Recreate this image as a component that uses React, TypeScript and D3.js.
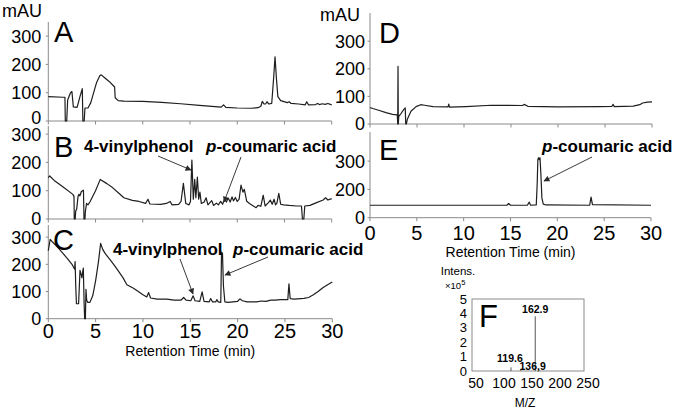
import React from "react";
import * as d3 from "d3";

const FONT = "'Liberation Sans', Arial, Helvetica, sans-serif";
const AXIS = "#8a8a8a";
const INK = "#1e1e1e";

// ---------- data ----------
const timeTicks = [0, 5, 10, 15, 20, 25, 30];
const timeTickLabels = ["0", "5", "10", "15", "20", "25", "30"];
const auTicks = [0, 100, 200, 300];
const auTickLabels = ["0", "100", "200", "300"];
const eTicks = [0, 100, 200];
const eTickLabels = ["0", "200", "300"];

type Pt = [number, number];

const traceA: Pt[] = [
  [0, 86], [1.55, 84], [1.76, 84], [1.8, 0], [1.95, 0], [2.05, 74], [2.35, 100], [2.5, 104], [2.65, 50],
  [3.05, 48], [3.35, 86], [3.6, 114], [3.66, 0], [3.8, 0], [3.88, 46], [4.2, 46], [4.5, 65], [4.8, 100],
  [5.1, 135], [5.45, 160], [5.6, 163], [6.0, 152], [6.5, 138], [7.02, 120], [7.08, 82], [7.4, 72], [8, 70],
  [10, 69], [12, 66], [14, 61], [16, 55], [18.3, 49], [18.55, 57], [18.8, 48], [20, 46], [21.5, 45],
  [22.2, 47], [22.5, 52], [22.65, 69], [22.85, 60], [23.0, 60], [23.15, 68], [23.35, 60], [23.65, 62],
  [23.85, 150], [24.0, 227], [24.15, 150], [24.3, 86], [24.6, 72], [25.3, 65], [25.5, 68], [25.7, 62],
  [26.5, 60], [27.2, 57], [27.35, 68], [27.55, 57], [28.3, 58], [28.5, 62], [28.7, 58], [29.0, 61],
  [29.3, 59], [29.6, 62], [30, 57],
];

const traceB: Pt[] = [
  [0, 146], [0.15, 152], [0.7, 134], [1.5, 115], [2.6, 87], [2.72, 80], [2.75, 0], [2.85, 0], [2.9, 28],
  [3.0, 34], [3.15, 80], [3.25, 87], [3.35, 82], [3.5, 97], [3.72, 102], [3.78, 0], [3.88, 0], [3.92, 25],
  [4.05, 55], [4.2, 50], [4.4, 60], [5.0, 100], [5.5, 140], [6.2, 125], [6.8, 111], [7.5, 90], [8.0, 75],
  [8.9, 66], [9.6, 62], [10.3, 55], [10.55, 70], [10.75, 53], [11.9, 52], [12.5, 55], [12.9, 62],
  [13.1, 50], [13.8, 52], [14.05, 62], [14.3, 126], [14.55, 55], [14.9, 50], [15.05, 62], [15.2, 208],
  [15.35, 70], [15.5, 140], [15.62, 75], [15.78, 148], [15.92, 70], [16.05, 95], [16.2, 55], [16.5, 60],
  [16.7, 75], [16.9, 50], [17.3, 65], [17.5, 48], [17.8, 56], [18.0, 50], [18.25, 62], [18.45, 52],
  [18.65, 70], [18.85, 60], [19.05, 74], [19.25, 60], [19.45, 78], [19.6, 64], [19.8, 76], [20.0, 62],
  [20.2, 70], [20.4, 120], [20.6, 95], [20.75, 105], [21.0, 63], [21.3, 55], [21.7, 46], [22.0, 40],
  [22.2, 48], [22.5, 45], [22.75, 84], [22.95, 46], [23.3, 58], [23.5, 67], [23.7, 52], [23.9, 70],
  [24.05, 50], [24.2, 56], [24.4, 91], [24.6, 52], [24.9, 50], [25.5, 48], [26.3, 46], [26.8, 46],
  [26.9, 0], [27.05, 0], [27.15, 46], [27.7, 48], [28.4, 58], [29.1, 67], [29.35, 75], [29.6, 67], [30, 72],
];

const traceC: Pt[] = [
  [0, 250], [0.2, 292], [0.5, 280], [1.0, 262], [1.5, 242], [2.0, 222], [2.5, 200], [2.78, 182],
  [2.83, 210], [2.9, 120], [2.97, 55], [3.2, 55], [3.35, 178], [3.45, 165], [3.55, 150], [3.62, 170],
  [3.7, 186], [3.78, 60], [3.84, 0], [3.92, 0], [3.98, 108], [4.05, 70], [4.15, 60], [4.4, 60],
  [4.7, 85], [5.0, 140], [5.3, 210], [5.53, 277], [5.75, 255], [6.0, 240], [6.5, 218], [7.0, 195],
  [7.5, 170], [7.9, 150], [8.3, 125], [9.0, 112], [9.5, 100], [10.0, 88], [10.4, 80], [10.6, 96],
  [10.8, 76], [11.5, 72], [12.5, 72], [13.3, 68], [14.0, 68], [14.3, 78], [14.55, 68], [15.05, 66],
  [15.3, 84], [15.5, 66], [16.0, 64], [16.25, 99], [16.45, 64], [17.0, 62], [17.15, 74], [17.35, 62],
  [17.7, 62], [17.8, 70], [17.95, 62], [18.22, 60], [18.3, 245], [18.4, 240], [18.5, 120], [18.65, 62],
  [19.0, 60], [19.5, 62], [20.0, 64], [20.25, 73], [20.5, 66], [21.0, 62], [22.0, 62], [22.5, 65],
  [23.0, 64], [23.5, 68], [24.0, 68], [24.5, 70], [25.3, 70], [25.42, 128], [25.55, 74], [26.0, 72],
  [27.0, 75], [27.5, 78], [28.0, 88], [28.5, 100], [29.0, 114], [29.5, 125], [30, 135],
];

const traceD: Pt[] = [
  [0, 60], [0.3, 56], [1.0, 49], [1.7, 41], [2.4, 35], [2.9, 33], [2.95, 0], [2.98, 209], [3.01, 0],
  [3.06, 28], [3.3, 38], [3.6, 53], [3.75, 58], [3.8, 0], [3.87, 0], [3.97, 17], [4.36, 46], [4.9, 63],
  [5.4, 70], [5.8, 68], [6.7, 63], [8.3, 62], [8.38, 72], [8.45, 61], [10.2, 63], [12.9, 68], [16.2, 67],
  [16.4, 71], [16.8, 64], [20.0, 62], [24.4, 63], [25.75, 64], [25.85, 71], [26.0, 63], [28.0, 65],
  [28.7, 70], [29.0, 76], [29.5, 79], [30, 80],
];

const traceE: Pt[] = [
  [0, 44], [14.6, 44], [14.8, 50], [15.0, 44], [16.8, 44], [17.0, 55], [17.15, 44], [17.75, 45],
  [17.85, 120], [17.92, 205], [18.0, 212], [18.08, 205], [18.15, 212], [18.25, 150], [18.35, 70],
  [18.5, 48], [18.8, 45], [23.45, 44], [23.6, 73], [23.75, 46], [30, 44],
];

// mass spectrum (F)
const mzValues = [119.6, 136.9, 162.9];
const mzIntensity = [0.25, 0.05, 3.8];
const mzLabels = ["119.6", "136,9", "162.9"];
const mzTicks = [50, 100, 150, 200, 250];
const intensTicks = [0, 1, 2, 3, 4, 5];

// ---------- layout ----------
type Layout = {
  x0: number; x1: number; y0: number; per100: number; top: number;
  labelGap: number; letter: string; lx: number; ly: number;
  zeroDy?: number; xLabelDy?: number; titleDy?: number;
};

const LA: Layout = { x0: 48.3, x1: 331.7, y0: 121, per100: 28.3, top: 22, labelGap: 7, letter: "A", lx: 54, ly: 42, zeroDy: -3 };
const LB: Layout = { x0: 48.3, x1: 331.7, y0: 219, per100: 28.3, top: 126, labelGap: 7, letter: "B", lx: 54, ly: 157 };
const LC: Layout = { x0: 48.3, x1: 332.3, y0: 318.7, per100: 27.2, top: 225, labelGap: 7, letter: "C", lx: 53, ly: 250, xLabelDy: 12, titleDy: 32 };
const LD: Layout = { x0: 370, x1: 652, y0: 124, per100: 27.6, top: 13, labelGap: 5, letter: "D", lx: 379, ly: 43 };
const LE: Layout = { x0: 370, x1: 651, y0: 217.7, per100: 28.3, top: 132, labelGap: 5, letter: "E", lx: 379, ly: 160, xLabelDy: 15, titleDy: 34 };

function Chrom({ data, L, ticks, tickLabels }: { data: Pt[]; L: Layout; ticks: number[]; tickLabels: string[] }) {
  const x = d3.scaleLinear().domain([0, 30]).range([L.x0, L.x1]);
  const y = d3.scaleLinear().domain([0, 300]).range([L.y0, L.y0 - 3 * L.per100]);
  const line = d3.line<Pt>().x((d) => x(d[0])).y((d) => y(d[1]));
  return (
    <g>
      <line x1={x(0)} x2={x(0)} y1={L.top} y2={y(0)} stroke={AXIS} strokeWidth={1} />
      <line x1={x(0)} x2={x(30)} y1={y(0)} y2={y(0)} stroke={AXIS} strokeWidth={1} />
      {timeTicks.map((t) => (
        <line key={t} x1={x(t)} x2={x(t)} y1={y(0)} y2={y(0) + 3.5} stroke={AXIS} strokeWidth={1} />
      ))}
      {ticks.map((v, i) => (
        <g key={v}>
          <line x1={x(0) - 2.5} x2={x(0)} y1={y(v)} y2={y(v)} stroke={AXIS} strokeWidth={1} />
          <text x={x(0) - L.labelGap} y={y(v) + (v === 0 && L.zeroDy ? L.zeroDy : 0)} dy="0.36em"
            textAnchor="end" fontSize={18} fill="#000">
            {tickLabels[i]}
          </text>
        </g>
      ))}
      <path d={line(data) || ""} fill="none" stroke={INK} strokeWidth={1.2} strokeLinejoin="round" />
      <text x={L.lx} y={L.ly} fontSize={29} fill="#000">{L.letter}</text>
      {L.xLabelDy !== undefined && (
        <g>
          {timeTicks.map((t, i) => (
            <text key={t} x={x(t)} y={y(0) + L.xLabelDy!} dy="0.36em" textAnchor="middle" fontSize={20} fill="#000">
              {timeTickLabels[i]}
            </text>
          ))}
          <text x={(x(0) + x(30)) / 2} y={y(0) + L.titleDy!} dy="0.36em" textAnchor="middle" fontSize={14} fill="#000">
            Retention Time (min)
          </text>
        </g>
      )}
    </g>
  );
}

function Coumaric({ x, y }: { x: number; y: number }) {
  return (
    <text x={x} y={y} fontSize={17} fontWeight="bold" fill="#000">
      <tspan fontStyle="italic">p</tspan>-coumaric acid
    </text>
  );
}

function Arrow({ a, b }: { a: Pt; b: Pt }) {
  return <line x1={a[0]} y1={a[1]} x2={b[0]} y2={b[1]} stroke="#3a3a3a" strokeWidth={1} markerEnd="url(#ah)" />;
}

function MassSpec() {
  const x = d3.scaleLinear().domain([50, 250]).range([472, 584]);
  const y = d3.scaleLinear().domain([0, 5]).range([371, 299]);
  const labelPos: Pt[] = [[-1, -9], [12, -4], [0, -7]];
  return (
    <g>
      <rect x={472} y={299} width={112} height={72} fill="none" stroke={AXIS} strokeWidth={1} />
      {intensTicks.map((v) => (
        <text key={v} x={467} y={y(v)} dy="0.36em" textAnchor="end" fontSize={13} fill="#000">{v}</text>
      ))}
      {mzTicks.map((v) => (
        <text key={v} x={x(v) + 4} y={383} dy="0.36em" textAnchor="middle" fontSize={14} fill="#000">{v}</text>
      ))}
      {mzValues.map((m, i) => (
        <line key={m} x1={x(m)} x2={x(m)} y1={y(0)} y2={y(mzIntensity[i])} stroke="#555" strokeWidth={1} />
      ))}
      {mzValues.map((m, i) => (
        <text key={"l" + m} x={x(m) + labelPos[i][0]} y={y(mzIntensity[i]) + labelPos[i][1]} dy="0.36em"
          textAnchor="middle" fontSize={10.5} fontWeight="bold" fill="#000">
          {mzLabels[i]}
        </text>
      ))}
      <text x={479} y={327} fontSize={31} fill="#000">F</text>
      <text x={458} y={271} dy="0.36em" textAnchor="middle" fontSize={11.5} fill="#000">Intens.</text>
      <text x={445} y={286} dy="0.36em" fontSize={9.5} fill="#000">×10<tspan dy="-4" fontSize={7.5}>5</tspan></text>
      <text x={525} y={403} dy="0.36em" textAnchor="middle" fontSize={12} fill="#000">M/Z</text>
    </g>
  );
}

export default function App() {
  return (
    <div style={{ position: "fixed", left: 0, top: 0, background: "#fff" }}>
      <svg width={674} height={412} viewBox="0 0 674 412" style={{ display: "block", fontFamily: FONT }}>
        <defs>
          <marker id="ah" viewBox="0 0 10 10" refX="9" refY="5" markerWidth="7" markerHeight="6"
            markerUnits="userSpaceOnUse" orient="auto">
            <path d="M0,0 L10,5 L0,10 z" fill="#2a2a2a" />
          </marker>
        </defs>
        <rect x={0} y={0} width={674} height={412} fill="#fff" />
        <text x={2} y={17} fontSize={18} fill="#000">mAU</text>
        <text x={320} y={21} fontSize={18} fill="#000">mAU</text>

        <Chrom data={traceA} L={LA} ticks={auTicks} tickLabels={auTickLabels} />
        <Chrom data={traceB} L={LB} ticks={auTicks} tickLabels={auTickLabels} />
        <Chrom data={traceC} L={LC} ticks={auTicks} tickLabels={auTickLabels} />
        <Chrom data={traceD} L={LD} ticks={auTicks} tickLabels={auTickLabels} />
        <Chrom data={traceE} L={LE} ticks={eTicks} tickLabels={eTickLabels} />

        <text x={84} y={152} fontSize={17} fontWeight="bold" fill="#000">4-vinylphenol</text>
        <Coumaric x={206} y={152} />
        <Arrow a={[158, 156]} b={[191, 170]} />
        <Arrow a={[241, 157]} b={[224, 202]} />

        <text x={113} y={255} fontSize={17} fontWeight="bold" fill="#000">4-vinylphenol</text>
        <Coumaric x={233} y={255} />
        <Arrow a={[180, 259]} b={[193, 294]} />
        <Arrow a={[268, 257]} b={[225, 275]} />

        <Coumaric x={542} y={152} />
        <Arrow a={[592, 157]} b={[544, 181]} />

        <MassSpec />
      </svg>
    </div>
  );
}
